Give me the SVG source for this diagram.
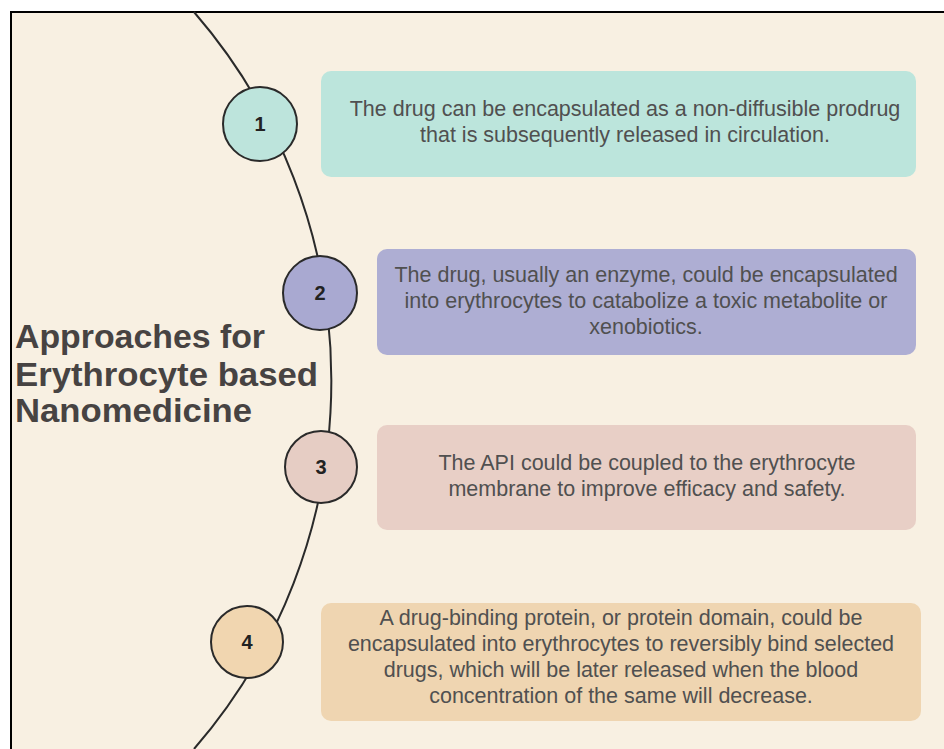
<svg xmlns="http://www.w3.org/2000/svg" width="944" height="749" viewBox="0 0 944 749">
<style>
.bt{font-family:"Liberation Sans",Arial,sans-serif;font-size:21.5px;fill:#505050;text-anchor:middle}
.num{font-family:"Liberation Sans",Arial,sans-serif;font-size:20px;font-weight:bold;fill:#222;text-anchor:middle}
.ttl{font-family:"Liberation Sans",Arial,sans-serif;font-size:33px;font-weight:bold;fill:#474342}
.ring{stroke:#2a2a2a;stroke-width:2}
</style>
<rect width="944" height="749" fill="#ffffff"/>
<rect x="11" y="12" width="933" height="737" fill="#f8f0e2"/>
<g id="frame" stroke="#000" stroke-width="2" fill="none">
<path d="M11 749 V12 H944"/>
</g>
<g id="connectors">
<path d="M194 12 A563 563 0 0 1 194 749" fill="none" stroke="#2a2a2a" stroke-width="2"/>
</g>
<g id="title">
<text class="ttl" x="15" y="348" textLength="250" lengthAdjust="spacingAndGlyphs">Approaches for</text>
<text class="ttl" x="15" y="386" textLength="303" lengthAdjust="spacingAndGlyphs">Erythrocyte based</text>
<text class="ttl" x="15" y="422" textLength="237" lengthAdjust="spacingAndGlyphs">Nanomedicine</text>
</g>
<g id="node1">
<circle class="ring" cx="260" cy="124" r="37" fill="#bde4dc"/>
<text class="num" x="260" y="131">1</text>
<rect x="321" y="71" width="595" height="106" rx="10" fill="#bce5dc"/>
<text class="bt" x="625" y="116">The drug can be encapsulated as a non-diffusible prodrug</text>
<text class="bt" x="625" y="142">that is subsequently released in circulation.</text>
</g>
<g id="node2">
<circle class="ring" cx="320" cy="293" r="37" fill="#a9a9d1"/>
<text class="num" x="320" y="300">2</text>
<rect x="377" y="249" width="539" height="106" rx="10" fill="#aeaed3"/>
<text class="bt" x="646" y="282">The drug, usually an enzyme, could be encapsulated</text>
<text class="bt" x="646" y="308">into erythrocytes to catabolize a toxic metabolite or</text>
<text class="bt" x="646" y="334">xenobiotics.</text>
</g>
<g id="node3">
<circle class="ring" cx="321" cy="467" r="36" fill="#e6cdc4"/>
<text class="num" x="321" y="474">3</text>
<rect x="377" y="425" width="539" height="105" rx="10" fill="#e8cfc6"/>
<text class="bt" x="647" y="470">The API could be coupled to the erythrocyte</text>
<text class="bt" x="647" y="496">membrane to improve efficacy and safety.</text>
</g>
<g id="node4">
<circle class="ring" cx="247" cy="642" r="36" fill="#f1d6b0"/>
<text class="num" x="247" y="649">4</text>
<rect x="321" y="603" width="600" height="118" rx="10" fill="#efd5b1"/>
<text class="bt" x="621" y="625">A drug-binding protein, or protein domain, could be</text>
<text class="bt" x="621" y="651">encapsulated into erythrocytes to reversibly bind selected</text>
<text class="bt" x="621" y="677">drugs, which will be later released when the blood</text>
<text class="bt" x="621" y="703">concentration of the same will decrease.</text>
</g>
</svg>
